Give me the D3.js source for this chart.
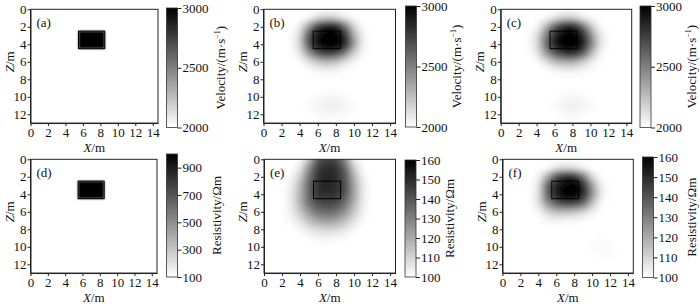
<!DOCTYPE html>
<html>
<head>
<meta charset="utf-8">
<script src="https://cdn.jsdelivr.net/npm/d3@7"></script>
<style>
body { margin: 0; background: #fff; }
svg { display: block; font-family: "Liberation Serif", "Times New Roman", serif; }
</style>
</head>
<body>
<svg id="chart" width="700" height="304"></svg>
<script>
// grid nodes, 1 m apart
const xNodes = [0, 1, 2, 3, 4, 5, 6, 7, 8, 9, 10, 11, 12, 13, 14, 15];
const zNodes = [0, 1, 2, 3, 4, 5, 6, 7, 8, 9, 10, 11, 12, 13];
const xTicks = [0, 2, 4, 6, 8, 10, 12, 14];
const zTicks = [0, 2, 4, 6, 8, 10, 12];
const velTicks = [2000, 2500, 3000];
const resTrueTicks = [100, 300, 500, 700, 900];
const resInvTicks = [100, 110, 120, 130, 140, 150, 160];

// anomaly body [x0, x1, z0, z1]
const anomalyBox = [5.5, 8.5, 2.5, 4.5];
const velTrue = [2000, 3000];   // background, anomaly
const resTrue = [100, 1000];

// (b) inverted velocity, m/s
const velB = [
  [2000,2000,2000,2000,2000,2000,2000,2000,2000,2000,2000,2000,2000,2000,2000,2000],
  [2000,2000,2000,2000,2000,2040,2170,2230,2200,2100,2020,2000,2000,2000,2000,2000],
  [2000,2000,2000,2000,2070,2400,2750,2880,2850,2560,2180,2020,2000,2000,2000,2000],
  [2000,2000,2000,2010,2170,2650,2920,3000,3000,2800,2330,2060,2000,2000,2000,2000],
  [2000,2000,2000,2010,2170,2650,2920,3000,3000,2830,2380,2060,2000,2000,2000,2000],
  [2000,2000,2000,2000,2100,2400,2650,2750,2700,2500,2180,2030,2000,2000,2000,2000],
  [2000,2000,2000,2000,2010,2120,2230,2280,2240,2120,2040,2000,2000,2000,2000,2000],
  [2000,2000,2000,2000,2000,2010,2040,2060,2040,2010,2000,2000,2000,2000,2000,2000],
  [2000,2000,2000,2000,2000,2000,2000,2000,2000,2000,2000,2000,2000,2000,2000,2000],
  [2000,2000,2000,2000,2000,2000,2000,2000,2000,2000,2000,2000,2000,2000,2000,2000],
  [2000,2000,2000,2000,2000,2000,2020,2030,2030,2020,2000,2000,2000,2000,2000,2000],
  [2000,2000,2000,2000,2000,2020,2040,2060,2060,2040,2020,2000,2000,2000,2000,2000],
  [2000,2000,2000,2000,2000,2000,2020,2030,2030,2020,2000,2000,2000,2000,2000,2000],
  [2000,2000,2000,2000,2000,2000,2000,2000,2000,2000,2000,2000,2000,2000,2000,2000]
];

// (c) joint inverted velocity, m/s
const velC = [
  [2000,2000,2000,2000,2000,2000,2000,2000,2000,2000,2000,2000,2000,2000,2000,2000],
  [2000,2000,2000,2000,2000,2030,2120,2220,2220,2120,2030,2000,2000,2000,2000,2000],
  [2000,2000,2000,2000,2040,2280,2630,2830,2870,2630,2270,2040,2000,2000,2000,2000],
  [2000,2000,2000,2010,2120,2480,2830,2970,3000,2880,2480,2120,2010,2000,2000,2000],
  [2000,2000,2000,2010,2140,2530,2870,3000,3000,2920,2530,2140,2010,2000,2000,2000],
  [2000,2000,2000,2000,2090,2380,2630,2780,2820,2680,2330,2060,2000,2000,2000,2000],
  [2000,2000,2000,2000,2010,2110,2260,2320,2320,2220,2090,2010,2000,2000,2000,2000],
  [2000,2000,2000,2000,2000,2000,2040,2060,2060,2040,2010,2000,2000,2000,2000,2000],
  [2000,2000,2000,2000,2000,2000,2000,2000,2000,2000,2000,2000,2000,2000,2000,2000],
  [2000,2000,2000,2000,2000,2000,2000,2000,2000,2000,2000,2000,2000,2000,2000,2000],
  [2000,2000,2000,2000,2000,2000,2000,2020,2030,2020,2000,2000,2000,2000,2000,2000],
  [2000,2000,2000,2000,2000,2000,2020,2050,2060,2050,2030,2000,2000,2000,2000,2000],
  [2000,2000,2000,2000,2000,2000,2000,2020,2030,2020,2000,2000,2000,2000,2000,2000],
  [2000,2000,2000,2000,2000,2000,2000,2000,2000,2000,2000,2000,2000,2000,2000,2000]
];

// (e) inverted resistivity, ohm-m
const resE = [
  [100,100,100,100,101,115,139,145,142,127,105,100,100,100,100,100],
  [100,100,100,100,106,127,145,149,148,136,112,101,100,100,100,100],
  [100,100,100,102,112,133,148,151,149,139,118,103,100,100,100,100],
  [100,100,100,104,117,136,149,151,149,141,121,105,100,100,100,100],
  [100,100,100,105,118,136,148,149,148,139,121,105,100,100,100,100],
  [100,100,100,105,118,133,142,143,142,133,118,104,100,100,100,100],
  [100,100,100,104,113,125,133,135,133,125,113,103,100,100,100,100],
  [100,100,100,102,107,115,121,123,121,115,107,101,100,100,100,100],
  [100,100,100,100,102,106,109,110,109,106,102,100,100,100,100,100],
  [100,100,100,100,100,101,102,103,102,101,100,100,100,100,100,100],
  [100,100,100,100,100,100,100,100,100,100,100,100,100,100,100,100],
  [100,100,100,100,100,100,100,100,100,100,100,100,100,100,100,100],
  [100,100,100,100,100,100,100,100,100,100,100,100,100,100,100,100],
  [100,100,100,100,100,100,100,100,100,100,100,100,100,100,100,100]
];

// (f) joint inverted resistivity, ohm-m
const resF = [
  [100,100,100,100,100,100,100,100,100,100,100,100,100,100,100,100],
  [100,100,100,100,100,101,107,110,108,104,100,100,100,100,100,100],
  [100,100,100,100,103,120,141,149,148,132,110,101,100,100,100,100],
  [100,100,100,100,107,135,152,158,160,149,123,104,100,100,100,100],
  [100,100,100,100,108,135,152,160,160,150,126,105,100,100,100,100],
  [100,100,100,100,107,126,138,143,143,135,115,102,100,100,100,100],
  [100,100,100,100,102,110,116,116,114,110,104,100,100,100,100,100],
  [100,100,100,100,100,102,103,102,102,101,100,100,100,100,100,100],
  [100,100,100,100,100,100,100,100,100,100,100,100,100,100,100,100],
  [100,100,100,100,100,100,100,100,100,100,100,101,100,100,100,100],
  [100,100,100,100,100,100,100,100,100,100,101,101,101,100,100,100],
  [100,100,100,100,100,100,100,100,100,100,100,101,101,100,100,100],
  [100,100,100,100,100,100,100,100,100,100,100,100,100,100,100,100],
  [100,100,100,100,100,100,100,100,100,100,100,100,100,100,100,100]
];

const panels = [
  { tag: "(a)", left: 30.5, right: 158, top: 9.3, cbX: 166.5, cbTop: 8, cbBot: 127.5, titleX: 225, domain: [2000, 3000], ticks: velTicks, kind: "vel", block: velTrue },
  { tag: "(b)", left: 263.5, right: 395.5, top: 9.3, cbX: 405.5, cbTop: 6, cbBot: 127, titleX: 461, domain: [2000, 3000], ticks: velTicks, kind: "vel", grid: velB },
  { tag: "(c)", left: 500.7, right: 631.7, top: 9.3, cbX: 640, cbTop: 6, cbBot: 127.5, titleX: 696, domain: [2000, 3000], ticks: velTicks, kind: "vel", grid: velC },
  { tag: "(d)", left: 30.5, right: 157, top: 159.3, cbX: 166.5, cbTop: 154, cbBot: 277, titleX: 221, domain: [100, 1000], ticks: resTrueTicks, kind: "res", block: resTrue },
  { tag: "(e)", left: 264, right: 395.5, top: 159.3, cbX: 405, cbTop: 160, cbBot: 277, titleX: 454, domain: [100, 160], ticks: resInvTicks, kind: "res", grid: resE },
  { tag: "(f)", left: 502.5, right: 633.3, top: 159.3, cbX: 642.5, cbTop: 157, cbBot: 277.5, titleX: 696, domain: [100, 160], ticks: resInvTicks, kind: "res", grid: resF }
];

const svg = d3.select("#chart");
const defs = svg.append("defs");
defs.append("filter").attr("id", "soft")
    .attr("x", "-10%").attr("y", "-10%").attr("width", "120%").attr("height", "120%")
  .append("feGaussianBlur").attr("stdDeviation", 1.5);
defs.append("filter").attr("id", "edge")
    .attr("x", "-30%").attr("y", "-30%").attr("width", "160%").attr("height", "160%")
  .append("feGaussianBlur").attr("stdDeviation", 1.3);

// paint the node grid into a small canvas, let the browser smooth it up
function gridImage(grid, color) {
    const small = document.createElement("canvas");
    small.width = xNodes.length;
    small.height = zNodes.length;
    const sctx = small.getContext("2d");
    grid.forEach((row, j) => row.forEach((v, i) => {
        sctx.fillStyle = color(v);
        sctx.fillRect(i, j, 1, 1);
    }));
    const k = 10;
    const big = document.createElement("canvas");
    big.width = small.width * k;
    big.height = small.height * k;
    const bctx = big.getContext("2d");
    bctx.imageSmoothingEnabled = true;
    bctx.imageSmoothingQuality = "high";
    bctx.drawImage(small, 0, 0, big.width, big.height);
    return big.toDataURL();
}

panels.forEach((p, n) => {
    const unit = 8.75;
    const x = d3.scaleLinear().domain([0, 14.6]).range([p.left, p.right]);
    const y = d3.scaleLinear().domain([0, 13]).range([p.top, p.top + 13 * unit]);
    const color = d3.scaleLinear().domain(p.domain).range(["#ffffff", "#000000"]).clamp(true);
    const g = svg.append("g");

    const clipId = "clip" + n;
    defs.append("clipPath").attr("id", clipId)
      .append("rect")
        .attr("x", x(0)).attr("y", y(0))
        .attr("width", x(14.6) - x(0)).attr("height", y(13) - y(0));

    const plot = g.append("g").attr("clip-path", `url(#${clipId})`);
    plot.append("rect")
        .attr("x", x(0)).attr("y", y(0))
        .attr("width", x(14.6) - x(0)).attr("height", y(13) - y(0))
        .attr("fill", "#fff");

    if (p.grid) {
        plot.append("image")
            .attr("href", gridImage(p.grid, color))
            .attr("x", x(-0.5)).attr("y", y(-0.5))
            .attr("width", x(15.5) - x(-0.5))
            .attr("height", y(13.5) - y(-0.5))
            .attr("preserveAspectRatio", "none")
            .attr("filter", "url(#soft)");
    } else {
        plot.append("rect")
            .attr("x", x(anomalyBox[0])).attr("y", y(anomalyBox[2]))
            .attr("width", x(anomalyBox[1]) - x(anomalyBox[0]))
            .attr("height", y(anomalyBox[3]) - y(anomalyBox[2]))
            .attr("fill", color(p.block[1]))
            .attr("filter", "url(#edge)");
    }

    // outline of the true body
    plot.append("rect")
        .attr("x", x(anomalyBox[0])).attr("y", y(anomalyBox[2]))
        .attr("width", x(anomalyBox[1]) - x(anomalyBox[0]))
        .attr("height", y(anomalyBox[3]) - y(anomalyBox[2]))
        .attr("fill", "none").attr("stroke", "#000").attr("stroke-width", 1);

    // frame
    g.append("rect")
        .attr("x", x(0)).attr("y", y(0))
        .attr("width", x(14.6) - x(0)).attr("height", y(13) - y(0))
        .attr("fill", "none").attr("stroke", "#222").attr("stroke-width", 1);

    const xAxis = g.append("g")
        .attr("transform", `translate(0,${y(13)})`)
        .call(d3.axisBottom(x).tickValues(xTicks).tickSize(3).tickPadding(2).tickSizeOuter(0));
    const yAxis = g.append("g")
        .attr("transform", `translate(${x(0)},0)`)
        .call(d3.axisLeft(y).tickValues(zTicks).tickSize(3).tickPadding(1).tickSizeOuter(0));
    [xAxis, yAxis].forEach(a => {
        a.select(".domain").attr("stroke", "#222");
        a.selectAll(".tick line").attr("stroke", "#222");
        a.selectAll(".tick text").attr("fill", "#111")
            .style("font-family", "Liberation Serif").style("font-size", "13px");
    });

    // axis titles
    const xt = g.append("text")
        .attr("x", (x(0) + x(14.6)) / 2).attr("y", y(13) + 29.2)
        .attr("text-anchor", "middle").attr("font-size", 13).attr("fill", "#111");
    xt.append("tspan").attr("font-style", "italic").text("X");
    xt.append("tspan").text("/m");

    const zt = g.append("text")
        .attr("transform", `translate(${x(0) - 17},${y(6)}) rotate(-90)`)
        .attr("text-anchor", "middle").attr("font-size", 13).attr("fill", "#111");
    zt.append("tspan").attr("font-style", "italic").text("Z");
    zt.append("tspan").text("/m");

    g.append("text")
        .attr("x", x(0) + 6).attr("y", y(0) + 18)
        .attr("font-size", 13).attr("fill", "#111")
        .text(p.tag);

    // colour bar
    const gradId = "grad" + n;
    const grad = defs.append("linearGradient").attr("id", gradId)
        .attr("x1", 0).attr("y1", 1).attr("x2", 0).attr("y2", 0);
    grad.append("stop").attr("offset", 0).attr("stop-color", color(p.domain[0]));
    grad.append("stop").attr("offset", 1).attr("stop-color", color(p.domain[1]));

    const cbW = 11;
    const cb = d3.scaleLinear().domain(p.domain).range([p.cbBot, p.cbTop]);
    g.append("rect")
        .attr("x", p.cbX).attr("y", p.cbTop)
        .attr("width", cbW).attr("height", p.cbBot - p.cbTop)
        .attr("fill", `url(#${gradId})`)
        .attr("stroke", "#333").attr("stroke-width", 0.8);
    const cbAxis = g.append("g")
        .attr("transform", `translate(${p.cbX + cbW},0)`)
        .call(d3.axisRight(cb).tickValues(p.ticks).tickFormat(d3.format("d"))
            .tickSize(4).tickPadding(1).tickSizeOuter(0));
    cbAxis.select(".domain").remove();
    cbAxis.selectAll(".tick line").attr("stroke", "#222");
    cbAxis.selectAll(".tick text").attr("fill", "#111")
        .style("font-family", "Liberation Serif").style("font-size", "13px");

    const tt = g.append("text")
        .attr("transform", `translate(${p.titleX},${(p.cbTop + p.cbBot) / 2}) rotate(-90)`)
        .attr("text-anchor", "middle").attr("font-size", 13).attr("fill", "#111");
    if (p.kind === "vel") {
        tt.append("tspan").text("Velocity/(m·s");
        tt.append("tspan").attr("font-size", 8).attr("dy", -5).text("−1");
        tt.append("tspan").attr("dy", 5).text(")");
    } else {
        tt.append("tspan").text("Resistivity/Ωm");
    }
});
</script>
</body>
</html>
